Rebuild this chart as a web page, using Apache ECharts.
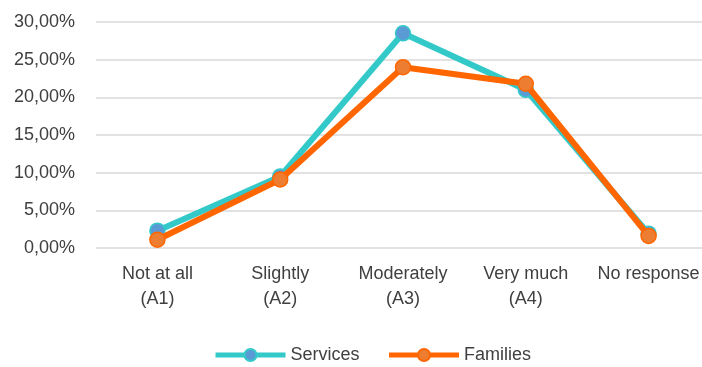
<!DOCTYPE html>
<html>
<head>
<meta charset="utf-8">
<script src="https://cdn.jsdelivr.net/npm/echarts@6/dist/echarts.min.js"></script>
<style>html,body{margin:0;padding:0;background:#fff;}#c{width:702px;height:367px;}</style>
</head>
<body>
<div id="c"></div>
<script>
const categories = ["Not at all\n(A1)", "Slightly\n(A2)", "Moderately\n(A3)", "Very much\n(A4)", "No response"];
const services = [2.3, 9.5, 28.5, 21.0, 1.9];
const families = [1.1, 9.1, 24.0, 21.8, 1.6];
const yTicks = [0, 5, 10, 15, 20, 25, 30];

const chart = echarts.init(document.getElementById('c'), null, {renderer: 'canvas'});
const font = 'Liberation Sans, Arial, sans-serif';
chart.setOption({
  animation: false,
  backgroundColor: '#fff',
  grid: {left: 96, top: 22, width: 614, height: 226, containLabel: false, outerBoundsMode: 'none'},
  legend: {
    left: 208, top: 341,
    itemWidth: 70, itemHeight: 15, itemGap: 27,
    lineStyle: {width: 5},
    textStyle: {fontFamily: font, fontSize: 18, color: '#404040'},
    data: ['Services', 'Families']
  },
  xAxis: {
    type: 'category',
    data: categories,
    boundaryGap: true,
    axisLine: {show: false},
    axisTick: {show: false},
    axisLabel: {fontFamily: font, fontSize: 18, color: '#404040', lineHeight: 25, margin: 14, interval: 0}
  },
  yAxis: {
    type: 'value',
    min: yTicks[0], max: yTicks[yTicks.length - 1], interval: 5,
    axisLine: {show: false},
    axisTick: {show: false},
    splitLine: {lineStyle: {color: '#D9D9D9', width: 1.5}},
    axisLabel: {
      fontFamily: font, fontSize: 18, color: '#404040', margin: 21,
      formatter: v => v.toFixed(2).replace('.', ',') + '%'
    }
  },
  series: [
    {
      name: 'Services', type: 'line', data: services,
      symbol: 'circle', symbolSize: 15,
      lineStyle: {color: '#33C9C9', width: 6},
      itemStyle: {color: '#5B9BD5', borderColor: '#33C9C9', borderWidth: 1.5},
      z: 2
    },
    {
      name: 'Families', type: 'line', data: families,
      symbol: 'circle', symbolSize: 15,
      lineStyle: {color: '#FF6600', width: 6},
      itemStyle: {color: '#ED7D31', borderColor: '#FF6600', borderWidth: 1.5},
      z: 3
    }
  ]
});
</script>
</body>
</html>
